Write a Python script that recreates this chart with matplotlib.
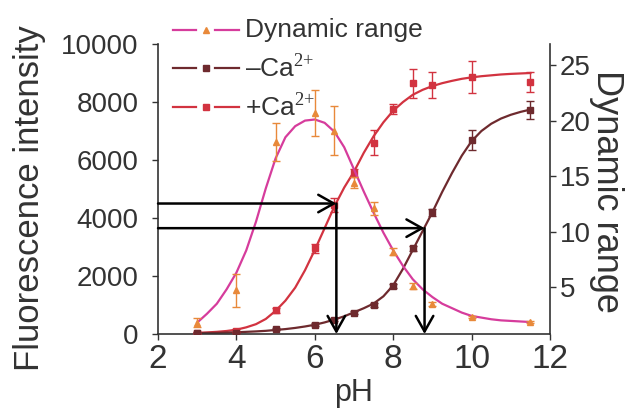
#pH titration of the sensor: fluorescence with/without Ca2+ and the dynamic range
import matplotlib
matplotlib.use('Agg')
import matplotlib.pyplot as plt
from matplotlib.lines import Line2D
import numpy as np

plt.rcParams['font.family'] = ['Liberation Sans', 'DejaVu Sans']
plt.rcParams['mathtext.fontset'] = 'custom'
plt.rcParams['mathtext.rm'] = 'Liberation Serif'

#Measured points
ph_pts = [3, 4, 5, 6, 6.5, 7, 7.5, 8, 8.5, 9, 10, 11.5]
dyn = [1.8, 4.7, 18.1, 20.7, 19.1, 14.4, 12.1, 8.2, 5.1, 3.5, 2.3, 1.85]
dyn_err = [0.4, 1.5, 1.7, 2.1, 2.2, 0.5, 0.6, 0.3, 0.3, 0.2, 0.1, 0.1]
ca_plus = [40, 120, 820, 2950, 4450, 5550, 6600, 7760, 8650, 8600, 8860, 8690]
ca_plus_err = [30, 40, 80, 150, 250, 150, 430, 170, 500, 450, 550, 350]
ca_minus = [40, 50, 170, 320, 500, 740, 1010, 1660, 2950, 4200, 6690, 7720]
ca_minus_err = [20, 20, 30, 50, 60, 60, 70, 80, 100, 120, 350, 300]

ph_fit = [3.0, 3.25, 3.5, 3.75, 4.0, 4.25, 4.5, 4.75, 5.0, 5.25, 5.5, 5.75,
          6.0, 6.25, 6.5, 6.75, 7.0, 7.25, 7.5, 7.75, 8.0, 8.25, 8.5, 8.75,
          9.0, 9.25, 9.5, 9.75, 10.0, 10.25, 10.5, 10.75, 11.0, 11.25, 11.5]
ca_plus_fit = [40, 55, 75, 105, 150, 230, 340, 520, 800, 1150, 1600, 2200,
               2900, 3650, 4400, 5050, 5600, 6250, 6820, 7300, 7700, 8000, 8250, 8420,
               8550, 8650, 8730, 8800, 8850, 8890, 8920, 8950, 8970, 8985, 9000]
ca_minus_fit = [30, 35, 40, 50, 60, 75, 90, 110, 140, 170, 210, 260,
                320, 400, 500, 610, 750, 890, 1050, 1300, 1680, 2250, 2900, 3550,
                4200, 4900, 5550, 6150, 6650, 7000, 7250, 7430, 7560, 7660, 7740]
dyn_fit = [1.8, 2.6, 3.5, 4.8, 6.3, 8.3, 10.9, 13.9, 16.6, 18.5, 19.5, 20.0,
           20.1, 19.8, 19.0, 17.6, 15.6, 13.6, 11.7, 9.9, 8.3, 6.9, 5.7, 4.8,
           4.1, 3.5, 3.1, 2.7, 2.4, 2.25, 2.1, 2.0, 1.95, 1.9, 1.85]

#pKa read-outs (arrows)
arrow_ph = [6.55, 8.8]
arrow_int = [4500, 3650]

c_dyn = '#d63c9c'
c_dyn_pt = '#e8893a'
c_plus = '#d23340'
c_minus = '#6e2a2e'
c_txt = '#333333'

fig = plt.figure(figsize=(6.39, 4.11), dpi=100)
ax = fig.add_axes([0.2473, 0.1873, 0.6134, 0.7056])
ax2 = ax.twinx()

ax.plot(ph_fit, ca_plus_fit, color=c_plus, lw=1.6, zorder=2)
ax.errorbar(ph_pts, ca_plus, yerr=ca_plus_err, fmt='s', ms=4, color=c_plus,
            ecolor=c_plus, elinewidth=1, capsize=3, zorder=3)
ax.plot(ph_fit, ca_minus_fit, color=c_minus, lw=1.6, zorder=2)
ax.errorbar(ph_pts, ca_minus, yerr=ca_minus_err, fmt='s', ms=4, color=c_minus,
            ecolor=c_minus, elinewidth=1, capsize=3, zorder=3)

ax2.plot(ph_fit, dyn_fit, color=c_dyn, lw=1.6, zorder=2)
ax2.errorbar(ph_pts, dyn, yerr=dyn_err, fmt='^', ms=5, color=c_dyn_pt,
             ecolor=c_dyn_pt, elinewidth=1, capsize=3, zorder=3)

#arrows drawn on top, in fluorescence units
for px, py in zip(arrow_ph, arrow_int):
    aprops = dict(arrowstyle='->,head_length=0.8,head_width=0.45', lw=1.8,
                  color='black', shrinkA=0, shrinkB=0, mutation_scale=14)
    ax2.annotate('', xy=(px, py), xytext=(2, py), xycoords=ax.transData,
                 textcoords=ax.transData, arrowprops=aprops, annotation_clip=False)
    ax2.annotate('', xy=(px, 0), xytext=(px, py), xycoords=ax.transData,
                 textcoords=ax.transData, arrowprops=aprops, annotation_clip=False)

ax.set_xlim(2, 12)
ax.set_ylim(0, 10000)
ax2.set_ylim(0.77, 26.9)
ax.set_xticks([2, 4, 6, 8, 10, 12])
ax.set_yticks([0, 2000, 4000, 6000, 8000, 10000])
ax2.set_yticks([5, 10, 15, 20, 25])

for a in (ax, ax2):
    a.spines['top'].set_visible(False)
    for s in a.spines.values():
        s.set_color('#333333')
        s.set_linewidth(1.2)
ax2.spines['left'].set_visible(False)
ax2.spines['bottom'].set_visible(False)
ax.spines['right'].set_visible(False)

ax.tick_params(axis='x', labelsize=24, length=4, width=1, pad=3, colors=c_txt)
ax.tick_params(axis='y', labelsize=20, length=4, width=1, pad=10, colors=c_txt)
ax2.tick_params(axis='y', labelsize=20, length=4, width=1, pad=3, colors=c_txt)

ax.set_xlabel('pH', fontsize=22, color=c_txt, labelpad=2)
ax.set_ylabel('Fluorescence intensity', fontsize=25, color=c_txt)
ax.yaxis.set_label_coords(-0.285, 0.47)
ax2.set_ylabel('Dynamic range', fontsize=26, color=c_txt, rotation=270)
ax2.yaxis.set_label_coords(1.19, 0.49)

#legend drawn by hand: line - marker - line, then text
W, H = 639.0, 411.0
leg_rows = [('Dynamic range', c_dyn, c_dyn_pt, '^', 5, 30),
            ('\u2013Ca$^{2{+}}$', c_minus, c_minus, 's', 4, 68),
            ('+Ca$^{2{+}}$', c_plus, c_plus, 's', 4, 107)]
for label, lc, mc, mk, ms, yp in leg_rows:
    yf = 1 - yp / H
    fig.add_artist(Line2D([173 / W, 196 / W], [yf, yf], color=lc, lw=1.6))
    fig.add_artist(Line2D([215 / W, 239 / W], [yf, yf], color=lc, lw=1.6))
    fig.add_artist(Line2D([205.5 / W], [yf], marker=mk, ms=ms, color=mc, ls='none'))
    fig.text(245 / W, yf, label, fontsize=19, color=c_txt, va='center', ha='left')

fig.savefig('out.png', dpi=100)
